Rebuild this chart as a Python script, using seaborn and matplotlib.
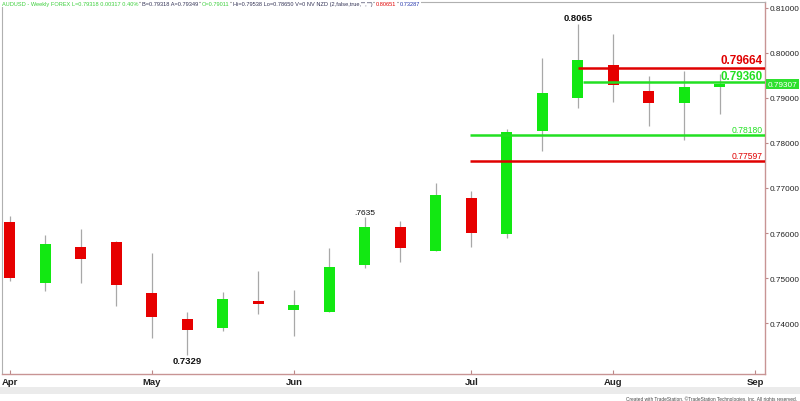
import matplotlib
matplotlib.use("Agg")
import matplotlib.pyplot as plt
import seaborn as sns
import pandas as pd
from matplotlib.patches import Rectangle

# ---- data (weekly AUDUSD, week ending Friday) ----
weeks = ["2017-04-07", "2017-04-14", "2017-04-21", "2017-04-28", "2017-05-05",
         "2017-05-12", "2017-05-19", "2017-05-26", "2017-06-02", "2017-06-09",
         "2017-06-16", "2017-06-23", "2017-06-30", "2017-07-07", "2017-07-14",
         "2017-07-21", "2017-07-28", "2017-08-04", "2017-08-11", "2017-08-18",
         "2017-08-25"]
opens = [0.7625, 0.7490, 0.7570, 0.7581, 0.7466, 0.7409, 0.7390, 0.7450, 0.7430, 0.7424,
         0.7530, 0.7614, 0.7561, 0.7678, 0.7598, 0.7826, 0.7901, 0.7974, 0.7915, 0.7889, 0.7925]
highs = [0.7638, 0.7596, 0.7610, 0.7583, 0.7556, 0.7424, 0.7468, 0.7516, 0.7474, 0.7566,
         0.7635, 0.7627, 0.7711, 0.7694, 0.7831, 0.7988, 0.8065, 0.8042, 0.7948, 0.7961, 0.7954]
lows = [0.7494, 0.7472, 0.7489, 0.7438, 0.7367, 0.7329, 0.7382, 0.7420, 0.7372, 0.7424,
        0.7522, 0.7535, 0.7561, 0.7570, 0.7588, 0.7783, 0.7877, 0.7890, 0.7837, 0.7807, 0.7865]
closes = [0.7499, 0.7576, 0.7542, 0.7485, 0.7413, 0.7384, 0.7453, 0.7442, 0.7439, 0.7524,
          0.7614, 0.7567, 0.7685, 0.7600, 0.7824, 0.7911, 0.7984, 0.7929, 0.7889, 0.7925, 0.7932]

month_labels = ["Apr", "May", "Jun", "Jul", "Aug", "Sep"]
month_first_week = ["2017-04-07", "2017-05-05", "2017-06-02", "2017-07-07", "2017-08-04", "2017-09-01"]

level_values = [0.79664, 0.79360, 0.78180, 0.77597]
level_labels = ["0.79664", "0.79360", "0.78180", "0.77597"]
level_start_week = [16, 16.15, 12.95, 12.95]
level_colors = ["#e00000", "#22e022", "#22e022", "#e00000"]
level_big = [True, True, False, False]
level_offsets = [1.5, 0.2, 1.0, 1.0]

last_price = 0.79307
y_ticks = [0.74, 0.75, 0.76, 0.77, 0.78, 0.79, 0.80, 0.81]

header_parts = [
    ("AUDUSD - Weekly FOREX L=0.79318 0.00317 0.40%", "#3bcf3b"),
    ("B=0.79318 A=0.79349", "#333355"),
    ("O=0.79011", "#3bcf3b"),
    ("Hi=0.79538 Lo=0.78650 V=0 NV NZD (2,false,true,\"\",\"\")", "#333355"),
    ("0.80651", "#e00000"),
    ("0.73287", "#2233aa"),
]

df = pd.DataFrame({"week": weeks, "open": opens, "high": highs, "low": lows, "close": closes})
df["x"] = range(len(df))
df["up"] = df["close"] >= df["open"]
df["bottom"] = df[["open", "close"]].min(axis=1)
df["height"] = (df["close"] - df["open"]).abs()

GREEN = "#12e812"
RED = "#e60000"

sns.set_style("white")
plt.rcParams["font.family"] = ["Liberation Sans", "DejaVu Sans"]

fig = plt.figure(figsize=(8, 4.02), dpi=100)
ax = fig.add_axes([2 / 800, 27 / 402, 763 / 800, 372 / 402])

# wicks
ax.vlines(df["x"], df["low"], df["high"], color="#a8a8a8", lw=0.9, zorder=1)
# bodies
ax.bar(df["x"], df["height"], bottom=df["bottom"], width=0.31,
       color=[GREEN if u else RED for u in df["up"]], edgecolor="none", zorder=2)

xmin, xmax = -0.225, 21.27
ax.set_xlim(xmin, xmax)
ax.set_ylim(0.72867, 0.81133)

# support / resistance levels
for v, lab, xs, c, big, off in zip(level_values, level_labels, level_start_week, level_colors,
                                   level_big, level_offsets):
    ax.hlines(v, xs, xmax, color=c, lw=1.8, zorder=3)
    ax.annotate(lab, xy=(1.0, v), xycoords=("axes fraction", "data"),
                xytext=(-1.5, off), textcoords="offset points",
                ha="right", va="bottom", color=c,
                fontsize=8.4 if big else 6.2, fontweight="bold" if big else "normal", zorder=4)

# high / low annotations
i_hi = int(df["high"].idxmax())
ax.annotate(f"{df.loc[i_hi, 'high']:.4f}", xy=(df.loc[i_hi, "x"], df.loc[i_hi, "high"]),
            xytext=(0, 1.5), textcoords="offset points", ha="center", va="bottom",
            fontsize=6.8, fontweight="bold", color="#111111")
i_lo = int(df["low"].idxmin())
ax.annotate(f"{df.loc[i_lo, 'low']:.4f}", xy=(df.loc[i_lo, "x"], df.loc[i_lo, "low"]),
            xytext=(0, -1), textcoords="offset points", ha="center", va="top",
            fontsize=6.8, fontweight="bold", color="#111111")
i_mid = 10
ax.annotate(f"{df.loc[i_mid, 'high']:.4f}"[1:], xy=(df.loc[i_mid, "x"], df.loc[i_mid, "high"]),
            xytext=(0, 1), textcoords="offset points", ha="center", va="bottom",
            fontsize=6, color="#111111")

# axes styling
ax.yaxis.tick_right()
ax.set_yticks(y_ticks)
ax.set_yticklabels([f"{t:.5f}" for t in y_ticks])
ax.tick_params(axis="y", which="both", right=True, left=False, length=2.5, width=0.8,
               color="#b88", labelsize=5.9, labelcolor="#222222", pad=0.8)
week_index = {w: i for i, w in enumerate(weeks)}
tick_pos = [week_index.get(w, len(weeks)) for w in month_first_week]
ax.set_xticks(tick_pos)
ax.set_xticklabels(month_labels, fontweight="bold")
ax.tick_params(axis="x", bottom=True, direction="in", length=3, width=0.8, color="#b88",
               labelsize=6.8, labelcolor="#222222", pad=2.5)
for side in ["right", "bottom"]:
    ax.spines[side].set_color("#c89494")
    ax.spines[side].set_linewidth(1.0)
for side in ["left", "top"]:
    ax.spines[side].set_color("#b0b0b0")
    ax.spines[side].set_linewidth(0.8)
ax.set_xlabel("")
ax.set_ylabel("")

# current price box on the axis
ax.annotate(f"{last_price:.5f}", xy=(1.0, last_price), xycoords=("axes fraction", "data"),
            xytext=(2.0, 0), textcoords="offset points", ha="left", va="center",
            fontsize=5.9, color="white",
            bbox=dict(boxstyle="square,pad=0.2", fc="#2ee02e", ec="none"), zorder=6,
            annotation_clip=False)

# header: parts laid out one after another
renderer = fig.canvas.get_renderer()
xpix = 2.0
for txt, col in header_parts:
    t = fig.text(xpix / 800, 1 - 4.5 / 402, txt, fontsize=4.05, color=col, ha="left", va="center",
                 bbox=dict(boxstyle="square,pad=0.1", fc="white", ec="none"), zorder=10)
    xpix += t.get_window_extent(renderer).width + 3.5

# bottom bar and credit
fig.patches.append(Rectangle((0, 7 / 402), 1, 7 / 402, transform=fig.transFigure,
                             fc="#ebebeb", ec="none", zorder=-1))
fig.text(797 / 800, 2.5 / 402, "Created with TradeStation. \u00a9TradeStation Technologies, Inc. All rights reserved.",
         fontsize=3.4, color="#444444", ha="right", va="center")

fig.savefig("out.png", dpi=100, facecolor="white")
